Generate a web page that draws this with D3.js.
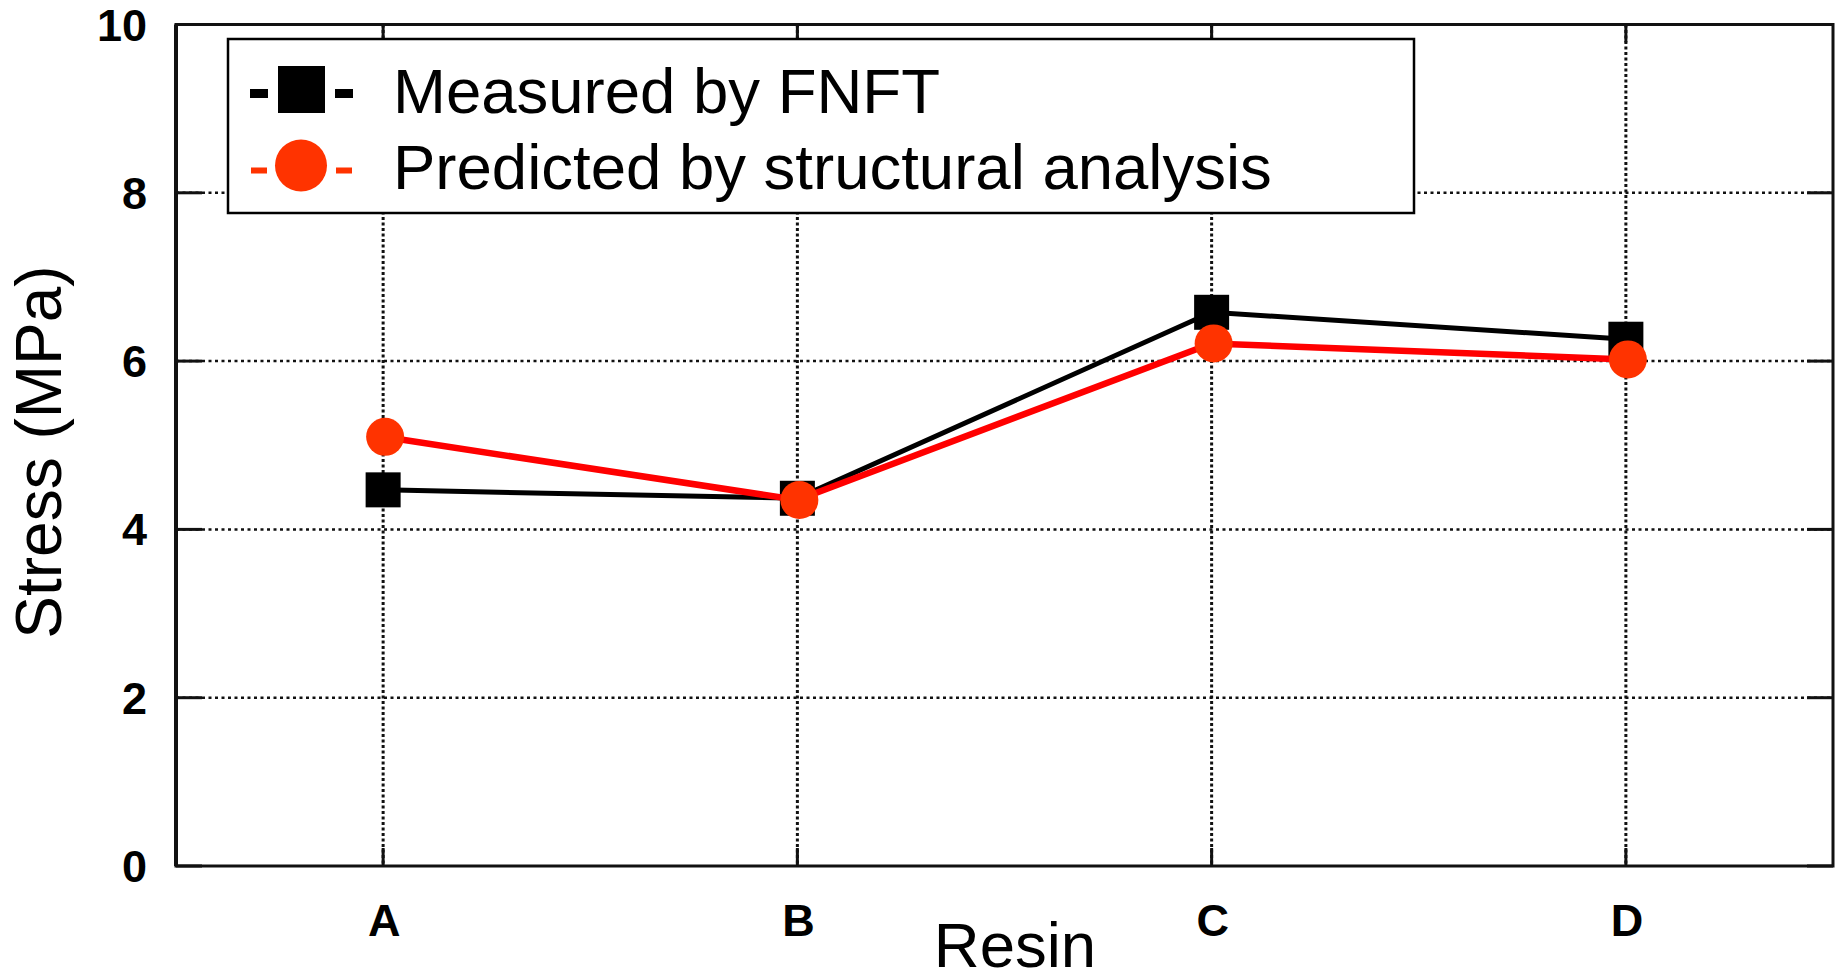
<!DOCTYPE html>
<html>
<head>
<meta charset="utf-8">
<script src="https://cdn.jsdelivr.net/npm/d3@7"></script>
<style>
  body { margin: 0; background: #fff; }
  text { font-family: Arial, "Liberation Sans", sans-serif; }
</style>
</head>
<body>
<div id="chart"></div>
<script>
// Data
var resins = ["A", "B", "C", "D"];
var measured = [4.47, 4.37, 6.58, 6.26];
var predicted = [5.10, 4.35, 6.21, 6.02];
var yTicks = [0, 2, 4, 6, 8, 10];
var seriesNames = ["Measured by FNFT", "Predicted by structural analysis"];

var width = 1835, height = 980;
var margin = {left: 176, top: 24.5, right: 2, bottom: 114};

var svg = d3.select("#chart").append("svg")
    .attr("width", width)
    .attr("height", height);

var x = d3.scalePoint()
    .domain(resins)
    .range([margin.left, width - margin.right])
    .padding(0.5);

var y = d3.scaleLinear()
    .domain([0, 10])
    .range([height - margin.bottom, margin.top]);

var x0 = margin.left, x1 = width - margin.right,
    y0 = height - margin.bottom, y1 = margin.top;

// dotted grid
var grid = svg.append("g");
grid.selectAll(".hg").data(yTicks.slice(1, -1)).enter().append("line")
    .attr("x1", x0).attr("x2", x1)
    .attr("y1", function(d){ return y(d); })
    .attr("y2", function(d){ return y(d); })
    .attr("stroke", "#111").attr("stroke-width", 2.5)
    .attr("stroke-dasharray", "3,3.5");
grid.selectAll(".vg").data(resins).enter().append("line")
    .attr("x1", function(d){ return x(d); })
    .attr("x2", function(d){ return x(d); })
    .attr("y1", y1).attr("y2", y0)
    .attr("stroke", "#111").attr("stroke-width", 3)
    .attr("stroke-dasharray", "3,2.5");

// inner ticks on all four sides
var ticks = svg.append("g").attr("stroke", "#111").attr("stroke-width", 3);
yTicks.forEach(function(t){
  ticks.append("line").attr("x1", x0).attr("x2", x0 + 26).attr("y1", y(t)).attr("y2", y(t));
  ticks.append("line").attr("x1", x1).attr("x2", x1 - 26).attr("y1", y(t)).attr("y2", y(t));
});
resins.forEach(function(r){
  ticks.append("line").attr("x1", x(r)).attr("x2", x(r)).attr("y1", y0).attr("y2", y0 - 18);
  ticks.append("line").attr("x1", x(r)).attr("x2", x(r)).attr("y1", y1).attr("y2", y1 + 18);
});

// frame
svg.append("rect")
    .attr("x", x0).attr("y", y1)
    .attr("width", x1 - x0).attr("height", y0 - y1)
    .attr("fill", "none").attr("stroke", "#111").attr("stroke-width", 3);
svg.append("line").attr("x1", x0).attr("x2", x0).attr("y1", y1).attr("y2", y0)
    .attr("stroke", "#111").attr("stroke-width", 4);

// tick labels
svg.append("g").selectAll("text").data(yTicks).enter().append("text")
    .attr("x", 147)
    .attr("y", function(d){ return y(d) + 16; })
    .attr("text-anchor", "end")
    .attr("font-size", 45).attr("font-weight", "bold")
    .text(function(d){ return d; });

svg.append("g").selectAll("text").data(resins).enter().append("text")
    .attr("x", function(d){ return x(d) + 1; })
    .attr("y", 936)
    .attr("text-anchor", "middle")
    .attr("font-size", 45).attr("font-weight", "bold")
    .text(function(d){ return d; });

// axis titles
svg.append("text")
    .attr("x", 1015).attr("y", 967)
    .attr("text-anchor", "middle")
    .attr("font-size", 63.5)
    .text("Resin");
svg.append("text")
    .attr("transform", "translate(61,452) rotate(-90)")
    .attr("text-anchor", "middle")
    .attr("font-size", 64)
    .text("Stress (MPa)");

// series
var line = d3.line()
    .x(function(d, i){ return x(resins[i]); })
    .y(function(d){ return y(d); });

svg.append("path").datum(measured)
    .attr("d", line)
    .attr("fill", "none").attr("stroke", "#000").attr("stroke-width", 5);

svg.selectAll(".sq").data(measured).enter().append("rect")
    .attr("x", function(d, i){ return x(resins[i]) - 17.5; })
    .attr("y", function(d){ return y(d) - 17.5; })
    .attr("width", 35).attr("height", 35)
    .attr("fill", "#000");

svg.append("path").datum(predicted)
    .attr("d", line)
    .attr("fill", "none").attr("stroke", "#ff0000").attr("stroke-width", 6.5);

svg.selectAll(".ci").data(predicted).enter().append("circle")
    .attr("cx", function(d, i){ return x(resins[i]) + 2; })
    .attr("cy", function(d){ return y(d); })
    .attr("r", 19)
    .attr("fill", "#ff3300");

// legend
var lg = svg.append("g");
lg.append("rect")
    .attr("x", 228).attr("y", 39)
    .attr("width", 1186).attr("height", 174)
    .attr("fill", "#fff").attr("stroke", "#000").attr("stroke-width", 2.5);

lg.append("rect").attr("x", 250).attr("y", 89).attr("width", 18).attr("height", 9).attr("fill", "#000");
lg.append("rect").attr("x", 335).attr("y", 89).attr("width", 18).attr("height", 9).attr("fill", "#000");
lg.append("rect").attr("x", 278).attr("y", 66).attr("width", 47).attr("height", 47).attr("fill", "#000");

lg.append("rect").attr("x", 251).attr("y", 167.5).attr("width", 16).attr("height", 6).attr("fill", "#ff3300");
lg.append("rect").attr("x", 336).attr("y", 167.5).attr("width", 16).attr("height", 6).attr("fill", "#ff3300");
lg.append("circle").attr("cx", 301).attr("cy", 165.5).attr("r", 26).attr("fill", "#ff3300");

lg.selectAll(".lt").data(seriesNames).enter().append("text")
    .attr("x", 393)
    .attr("y", function(d, i){ return 113 + i * 76; })
    .attr("font-size", 63.5)
    .text(function(d){ return d; });
</script>
</body>
</html>
